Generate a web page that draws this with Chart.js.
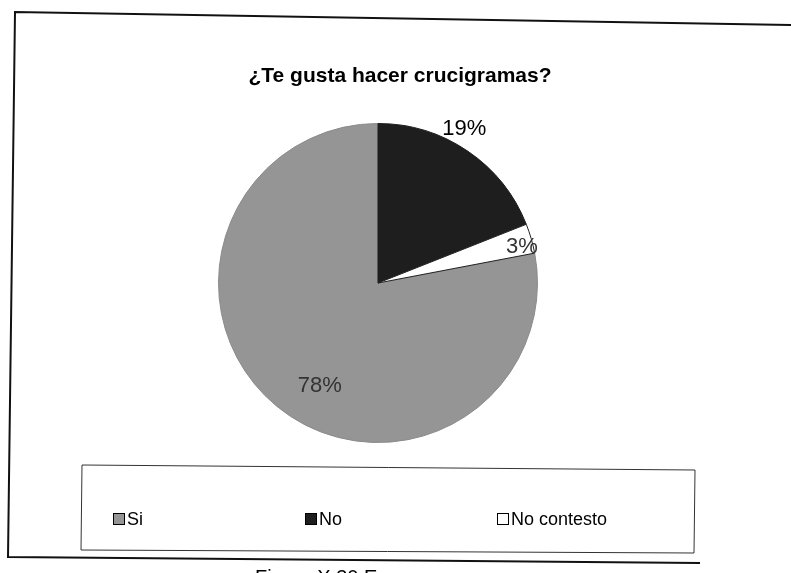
<!DOCTYPE html>
<html>
<head>
<meta charset="utf-8">
<script src="https://cdn.jsdelivr.net/npm/chart.js@4.4.1/dist/chart.umd.min.js"></script>
<style>
  html, body { margin: 0; padding: 0; background: #fff; }
  #wrap { width: 791px; height: 573px; }
</style>
</head>
<body>
<div id="wrap"><canvas id="pieChart" width="791" height="573"></canvas></div>
<script>
// datos de la encuesta
const chartTitle = '¿Te gusta hacer crucigramas?';
const categories = ['Si', 'No', 'No contesto'];
const percentages = [78, 19, 3];
const sliceColors = ['#959595', '#1e1e1e', '#ffffff'];
const caption = 'Figura X.30 E';

// el primer sector (Si) empieza donde termina "No contesto", asi "No" queda arriba
const total = percentages.reduce((a, b) => a + b, 0);
const startRotation = 360 * (total - percentages[0]) / total;

const FONT = "'Liberation Sans', Arial, sans-serif";

// marco escaneado, titulo, leyenda y pie de figura
const framePlugin = {
    id: 'frame',
    afterDraw(chart) {
        const ctx = chart.ctx;
        ctx.save();
        ctx.strokeStyle = '#111';
        ctx.lineWidth = 2;
        ctx.beginPath();
        ctx.moveTo(791, 25);
        ctx.lineTo(15, 12);
        ctx.lineTo(8, 557);
        ctx.lineTo(700, 563);
        ctx.stroke();

        // caja de la leyenda
        ctx.lineWidth = 1;
        ctx.strokeStyle = '#333';
        ctx.beginPath();
        ctx.moveTo(82, 465);
        ctx.lineTo(695, 470);
        ctx.lineTo(694, 553);
        ctx.lineTo(81, 550);
        ctx.closePath();
        ctx.stroke();

        // titulo
        ctx.fillStyle = '#000';
        ctx.font = 'bold 21px ' + FONT;
        ctx.textAlign = 'center';
        ctx.textBaseline = 'middle';
        ctx.fillText(chartTitle, 400, 76);

        // leyenda a partir de los datos del grafico
        const ds = chart.data.datasets[0];
        const itemX = [113, 305, 497];
        ctx.font = '18px ' + FONT;
        ctx.textAlign = 'left';
        chart.data.labels.forEach((lab, i) => {
            const x = itemX[i], y = 519;
            ctx.fillStyle = ds.backgroundColor[i];
            ctx.fillRect(x, y - 6, 12, 12);
            ctx.strokeStyle = '#000';
            ctx.lineWidth = 1;
            ctx.strokeRect(x + 0.5, y - 5.5, 11, 11);
            ctx.fillStyle = '#000';
            ctx.fillText(lab, x + 14, y + 1);
        });

        // pie de figura cortado por el borde
        ctx.textBaseline = 'alphabetic';
        ctx.font = '20px ' + FONT;
        ctx.fillText(caption, 255, 584);
        ctx.restore();
    }
};

// etiquetas de porcentaje sobre los sectores
const labelPlugin = {
    id: 'sliceLabels',
    afterDatasetsDraw(chart) {
        const ctx = chart.ctx;
        const meta = chart.getDatasetMeta(0);
        const place = [
            { r: 0.74, shift: -10, color: '#333' },
            { r: 1.11, shift: -5, color: '#000' },
            { r: 0.93, shift: 2, color: '#333' }
        ];
        ctx.save();
        ctx.font = '22px ' + FONT;
        ctx.textAlign = 'center';
        ctx.textBaseline = 'middle';
        meta.data.forEach((arc, i) => {
            const p = arc.getProps(['x', 'y', 'startAngle', 'endAngle', 'outerRadius'], true);
            const a = (p.startAngle + p.endAngle) / 2 + place[i].shift * Math.PI / 180;
            const r = p.outerRadius * place[i].r;
            ctx.fillStyle = place[i].color;
            ctx.fillText(percentages[i] + '%', p.x + Math.cos(a) * r, p.y + Math.sin(a) * r);
        });
        ctx.restore();
    }
};

new Chart(document.getElementById('pieChart'), {
    type: 'pie',
    data: {
        labels: categories,
        datasets: [{
            data: percentages,
            backgroundColor: sliceColors,
            borderColor: ['#8a8a8a', '#1e1e1e', '#222'],
            borderWidth: 1
        }]
    },
    options: {
        responsive: false,
        animation: false,
        rotation: startRotation,
        layout: { padding: { top: 123, bottom: 130, left: 0, right: 35 } },
        plugins: {
            legend: { display: false },
            title: { display: false },
            tooltip: { enabled: false }
        }
    },
    plugins: [labelPlugin, framePlugin]
});
</script>
</body>
</html>
